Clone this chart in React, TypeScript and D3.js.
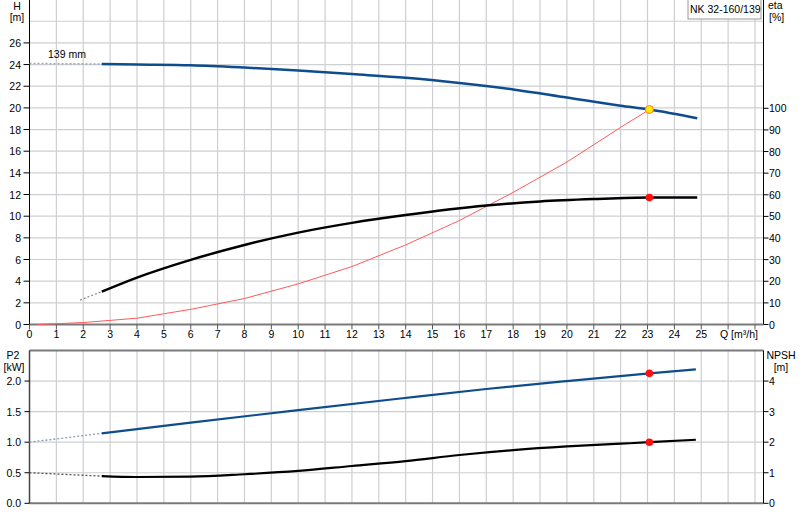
import * as d3 from "d3";

// Q axis tick labels (m³/h)
const qLabels = d3.range(0, 26);
const qGrid = d3.range(1, 28);

// pump head H [m]
const hQ = [2.69, 4, 6, 8, 10, 12, 14, 16, 18, 20, 22, 23.07, 24.85];
const hVal = [24.05, 24.0, 23.93, 23.72, 23.45, 23.12, 22.78, 22.3, 21.7, 20.95, 20.2, 19.85, 19.04];
const hExtQ = [0, 2.69];
const hExtVal = [24.1, 24.05];

// efficiency eta [%]
const etaQ = [2.69, 4, 6, 8, 10, 12, 14, 17, 19, 21, 23.07, 24.85];
const etaVal = [15.2, 21.7, 29.9, 36.8, 42.5, 47.0, 50.6, 55.0, 56.9, 58.0, 58.7, 58.7];
const etaExtQ = [1.88, 2.69];
const etaExtVal = [11.3, 15.2];

// system curve (on H scale)
const sysQ = [0.3, 2, 4, 6, 8, 10, 12, 14, 16, 18, 20, 22, 23.07];
const sysH = [0, 0.18, 0.58, 1.4, 2.4, 3.75, 5.35, 7.35, 9.6, 12.2, 15.0, 18.2, 19.85];

// power P2 [kW]
const p2Q = [2.69, 6, 10, 13.8, 17, 20, 23.07, 24.8];
const p2Val = [1.145, 1.32, 1.525, 1.715, 1.87, 2.0, 2.126, 2.19];
const p2ExtQ = [0, 2.69];
const p2ExtVal = [1.0, 1.145];

// NPSH [m]
const npshQ = [2.69, 4, 6, 8, 10, 12, 14, 16, 18, 20, 22, 23.07, 24.8];
const npshVal = [0.89, 0.86, 0.87, 0.95, 1.06, 1.22, 1.38, 1.58, 1.74, 1.86, 1.95, 2.0, 2.08];
const npshExtQ = [0, 2.69];
const npshExtVal = [1.0, 0.89];

// duty point
const dutyQ = 23.07;
const dutyH = 19.85;
const dutyEta = 58.7;
const dutyP2 = 2.126;
const dutyNpsh = 2.0;

const hTicks = [0, 2, 4, 6, 8, 10, 12, 14, 16, 18, 20, 22, 24, 26];
const hGrid = [2, 4, 6, 8, 10, 12, 14, 16, 18, 20, 22, 24, 26, 28];
const etaTicks = [0, 10, 20, 30, 40, 50, 60, 70, 80, 90, 100];
const p2Ticks = [0, 0.5, 1.0, 1.5, 2.0];
const npshTicks = [0, 1, 2, 3, 4];

const title = "NK 32-160/139";
const font = "'Liberation Sans', Arial, sans-serif";
const blue = "#0d4d8d";

export default function App() {
  const left = 29.5;
  const right = 763.5;
  const x = d3.scaleLinear().domain([0, 27]).range([left, left + 27 * 26.87]);
  const yH = d3.scaleLinear().domain([0, 26]).range([324.5, 42.9]);
  const yEta = d3.scaleLinear().domain([0, 100]).range([324.5, 108.3]);
  const yP2 = d3.scaleLinear().domain([0, 2.5]).range([503.3, 350.5]);
  const yNpsh = d3.scaleLinear().domain([0, 5]).range([503.3, 350.5]);
  const topBottom = 324.5;

  const mk = (xs: number[], ys: number[]) => xs.map((q, i) => [q, ys[i]] as [number, number]);
  const line = (ys: d3.ScaleLinear<number, number>, curve = d3.curveMonotoneX) =>
    d3
      .line<[number, number]>()
      .x((d) => x(d[0]))
      .y((d) => ys(d[1]))
      .curve(curve);

  const txt = { fontFamily: font, fontSize: 10.5, fill: "#000" } as const;

  return (
    <svg
      width={800}
      height={520}
      style={{ position: "absolute", left: 0, top: 0, background: "#fff" }}
    >
      {/* ---------- top chart grid ---------- */}
      {qGrid.map((q) => (
        <line key={"vg" + q} x1={x(q)} x2={x(q)} y1={0} y2={topBottom} stroke="#cdcfd2" strokeWidth={1.2} />
      ))}
      {hGrid.map((h) => (
        <line key={"hg" + h} x1={left} x2={right} y1={yH(h)} y2={yH(h)} stroke="#cdcfd2" strokeWidth={1.2} />
      ))}

      {/* axes */}
      <line x1={left} x2={left} y1={0} y2={topBottom} stroke="#000" />
      <line x1={right} x2={right} y1={0} y2={topBottom} stroke="#000" />
      <line x1={left} x2={right} y1={topBottom} y2={topBottom} stroke="#7a7a7a" strokeWidth={2} />

      {hTicks.map((h) => (
        <g key={"ht" + h}>
          <line x1={left - 6} x2={left} y1={yH(h)} y2={yH(h)} stroke="#000" />
          <text {...txt} x={21} y={yH(h) + 4} textAnchor="end">{h}</text>
        </g>
      ))}
      {etaTicks.map((e) => (
        <g key={"et" + e}>
          <line x1={right} x2={right + 5} y1={yEta(e)} y2={yEta(e)} stroke="#000" />
          <text {...txt} x={769} y={yEta(e) + 4}>{e}</text>
        </g>
      ))}
      {qGrid.concat([0]).map((q) => (
        <line key={"qt" + q} x1={x(q)} x2={x(q)} y1={topBottom} y2={topBottom + 5} stroke="#555" />
      ))}
      {qLabels.map((q) => (
        <text key={"ql" + q} {...txt} x={x(q)} y={338} textAnchor="middle">{q}</text>
      ))}
      <text {...txt} x={720} y={338}>Q [m³/h]</text>

      <text {...txt} x={17} y={10} textAnchor="middle">H</text>
      <text {...txt} x={17} y={21} textAnchor="middle">[m]</text>
      <text {...txt} x={768} y={9}>eta</text>
      <text {...txt} x={769} y={21}>[%]</text>

      <rect x={688} y={-1} width={73} height={20} fill="#fff" stroke="#999" />
      <text {...txt} x={690} y={12.5}>{title}</text>

      {/* curves */}
      <path d={line(yH, d3.curveLinear)(mk(hExtQ, hExtVal)) || ""} fill="none" stroke="#9aa6bd" strokeWidth={1.5} strokeDasharray="2,2" />
      <text {...txt} x={48} y={57.5}>139 mm</text>
      <path d={line(yEta, d3.curveLinear)(mk(etaExtQ, etaExtVal)) || ""} fill="none" stroke="#888" strokeWidth={1.2} strokeDasharray="2,2" />
      <path d={line(yH, d3.curveLinear)(mk(sysQ, sysH)) || ""} fill="none" stroke="#ff5a5a" strokeWidth={1} />
      <path d={line(yH)(mk(hQ, hVal)) || ""} fill="none" stroke={blue} strokeWidth={2.5} />
      <path d={line(yEta)(mk(etaQ, etaVal)) || ""} fill="none" stroke="#000" strokeWidth={2.5} />
      <circle cx={x(dutyQ)} cy={yEta(dutyEta)} r={3.8} fill="#ff1010" />
      <circle cx={x(dutyQ)} cy={yH(dutyH)} r={4} fill="#ffee00" stroke="#ff7a30" strokeWidth={1} />

      {/* ---------- bottom chart ---------- */}
      {qGrid.map((q) => (
        <line key={"bvg" + q} x1={x(q)} x2={x(q)} y1={350.5} y2={503.3} stroke="#cdcfd2" strokeWidth={1.2} />
      ))}
      {p2Ticks.slice(1).map((p) => (
        <line key={"bhg" + p} x1={left} x2={right} y1={yP2(p)} y2={yP2(p)} stroke="#cdcfd2" strokeWidth={1.2} />
      ))}
      <line x1={left} x2={right} y1={350.5} y2={350.5} stroke="#7a7a7a" strokeWidth={2} />
      <line x1={left} x2={right} y1={503.3} y2={503.3} stroke="#7a7a7a" strokeWidth={2} />
      <line x1={left} x2={left} y1={350.5} y2={503.3} stroke="#444" strokeWidth={1.5} />
      <line x1={right} x2={right} y1={350.5} y2={503.3} stroke="#000" />

      {p2Ticks.map((p) => (
        <g key={"pt" + p}>
          <line x1={left - 5} x2={left} y1={yP2(p)} y2={yP2(p)} stroke="#000" />
          <text {...txt} x={21} y={yP2(p) + 4} textAnchor="end">{p.toFixed(1)}</text>
        </g>
      ))}
      {npshTicks.map((n) => (
        <g key={"nt" + n}>
          <line x1={right} x2={right + 5} y1={yNpsh(n)} y2={yNpsh(n)} stroke="#000" />
          <text {...txt} x={769} y={yNpsh(n) + 4}>{n}</text>
        </g>
      ))}
      <text {...txt} x={13} y={359} textAnchor="middle">P2</text>
      <text {...txt} x={14} y={371} textAnchor="middle">[kW]</text>
      <text {...txt} x={781} y={359} textAnchor="middle">NPSH</text>
      <text {...txt} x={781} y={371} textAnchor="middle">[m]</text>

      <path d={line(yP2, d3.curveLinear)(mk(p2ExtQ, p2ExtVal)) || ""} fill="none" stroke="#8c9ab8" strokeWidth={1.3} strokeDasharray="2,2" />
      <path d={line(yNpsh, d3.curveLinear)(mk(npshExtQ, npshExtVal)) || ""} fill="none" stroke="#555" strokeWidth={1.3} strokeDasharray="2,2" />
      <path d={line(yP2)(mk(p2Q, p2Val)) || ""} fill="none" stroke={blue} strokeWidth={2.2} />
      <path d={line(yNpsh)(mk(npshQ, npshVal)) || ""} fill="none" stroke="#000" strokeWidth={2.2} />
      <circle cx={x(dutyQ)} cy={yP2(dutyP2)} r={3.8} fill="#ff1010" />
      <circle cx={x(dutyQ)} cy={yNpsh(dutyNpsh)} r={3.8} fill="#ff1010" />
    </svg>
  );
}
